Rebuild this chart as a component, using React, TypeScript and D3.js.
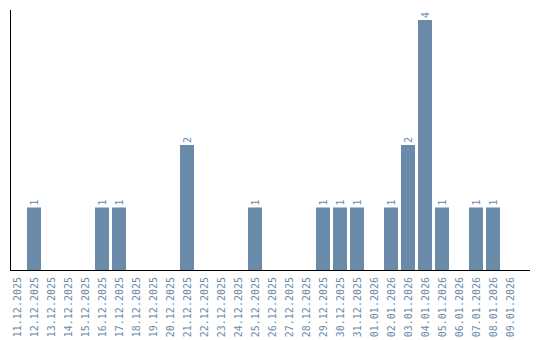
import React from "react";
import * as d3 from "d3";

const categories = [
  "11.12.2025", "12.12.2025", "13.12.2025", "14.12.2025", "15.12.2025",
  "16.12.2025", "17.12.2025", "18.12.2025", "19.12.2025", "20.12.2025",
  "21.12.2025", "22.12.2025", "23.12.2025", "24.12.2025", "25.12.2025",
  "26.12.2025", "27.12.2025", "28.12.2025", "29.12.2025", "30.12.2025",
  "31.12.2025", "01.01.2026", "02.01.2026", "03.01.2026", "04.01.2026",
  "05.01.2026", "06.01.2026", "07.01.2026", "08.01.2026", "09.01.2026",
];
const values = [
  0, 1, 0, 0, 0,
  1, 1, 0, 0, 0,
  2, 0, 0, 0, 1,
  0, 0, 0, 1, 1,
  1, 0, 1, 2, 4,
  1, 0, 1, 1, 0,
];

const W = 540;
const H = 340;
const COLOR = "#6a8aaa";
const FONT = "'DejaVu Sans Mono', 'Liberation Mono', monospace";

export default function App() {
  const x = d3
    .scaleBand<string>()
    .domain(categories)
    .range([8.5, 518.5])
    .paddingInner(3 / 17)
    .paddingOuter(3 / 34);
  const y = d3.scaleLinear().domain([0, 4]).range([270, 20]);
  const base = y(0);

  return (
    <svg
      width={W}
      height={H}
      style={{ position: "absolute", left: 0, top: 0, display: "block" }}
    >
      <rect x={0} y={0} width={W} height={H} fill="#fff" />
      {categories.map((c, i) => {
        const v = values[i];
        if (!v) return null;
        const bx = x(c)!;
        return (
          <rect
            key={"b" + c}
            x={bx}
            y={y(v)}
            width={x.bandwidth()}
            height={base - y(v)}
            fill={COLOR}
          />
        );
      })}
      {categories.map((c, i) => {
        const v = values[i];
        if (!v) return null;
        const cx = x(c)! + x.bandwidth() / 2;
        return (
          <text
            key={"v" + c}
            transform={`translate(${cx},${y(v) - 2}) rotate(-90)`}
            dy="0.35em"
            textAnchor="start"
            fontFamily={FONT}
            fontSize={10}
            fill={COLOR}
          >
            {v}
          </text>
        );
      })}
      <line x1={10.5} x2={10.5} y1={10} y2={270.5} stroke="#000" strokeWidth={1} />
      <line x1={10} x2={530} y1={270.5} y2={270.5} stroke="#000" strokeWidth={1} />
      {categories.map((c) => {
        const cx = x(c)! + x.bandwidth() / 2;
        return (
          <text
            key={"t" + c}
            transform={`translate(${cx},277) rotate(-90)`}
            dy="0.35em"
            textAnchor="end"
            fontFamily={FONT}
            fontSize={10}
            fill={COLOR}
          >
            {c}
          </text>
        );
      })}
    </svg>
  );
}
